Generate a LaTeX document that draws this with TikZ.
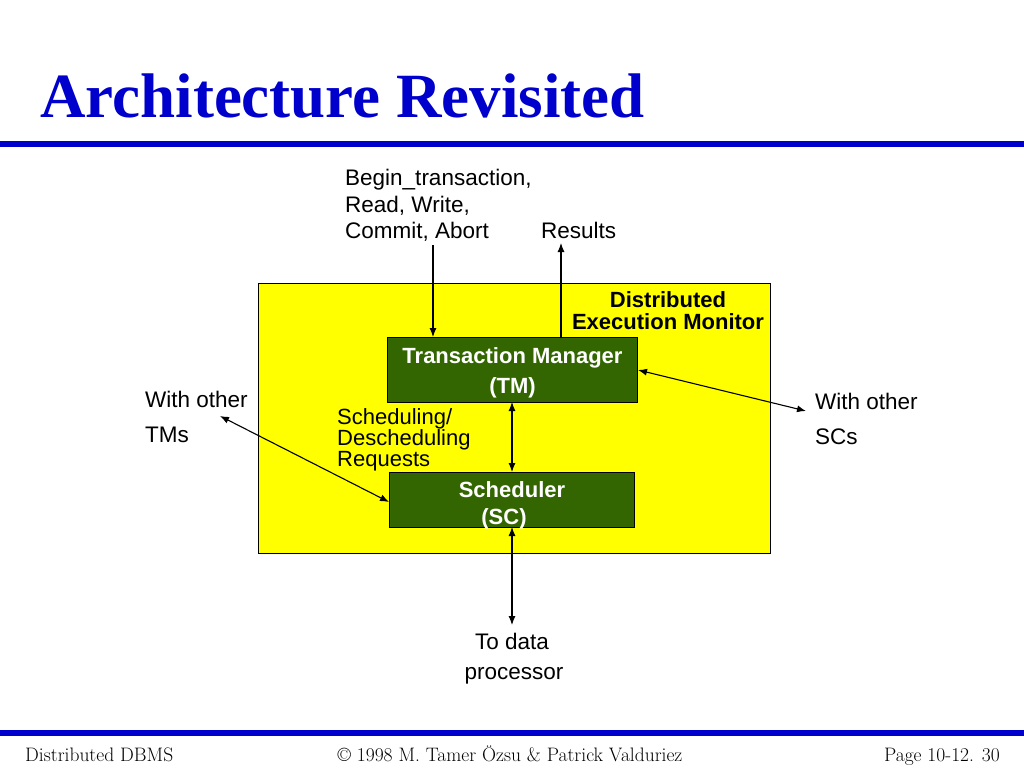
\documentclass[tikz,border=0pt]{standalone}
\usepackage{fontspec}
\newfontfamily\arial{Liberation Sans}
\newfontfamily\titlefont{Liberation Serif}
\usetikzlibrary{arrows.meta}
\definecolor{slideblue}{RGB}{0,0,204}
\definecolor{boxgreen}{RGB}{51,102,0}
\definecolor{boxyellow}{RGB}{255,255,0}
\begin{document}
\begin{tikzpicture}[x=1pt,y=-1pt,
  txt/.style={font=\arial\fontsize{22.5}{26}\selectfont, inner sep=0pt, anchor=base west},
  greenbox/.style={draw=black, line width=1pt, fill=boxgreen, inner sep=0pt, anchor=north west},
  boxtext/.style={text=white, align=center, inner sep=0pt, font=\arial\bfseries\fontsize{22}{30}\selectfont},
  conn/.style={line width=1.1pt, -{Latex[length=9pt,width=7pt]}},
  biconn/.style={line width=1.1pt, {Latex[length=9pt,width=7pt]}-{Latex[length=9pt,width=7pt]}},
  bar/.style={fill=slideblue, draw=none},
  foot/.style={font=\fontsize{19.5}{20}\selectfont, inner sep=0pt, anchor=base}]
\useasboundingbox (0,0) rectangle (1024,768);
\fill[white] (0,0) rectangle (1024,768);
% title
\node[anchor=base west, inner sep=0pt, text=slideblue, font=\titlefont\bfseries\fontsize{63}{66}\selectfont] (title) at (40,117) {Architecture Revisited};
\fill[bar] (0,141) rectangle (1024,147);
\fill[bar] (0,730) rectangle (1024,736);
% footer
\node[foot, anchor=base west] (f1) at (25,761) {Distributed DBMS};
\node[foot] (f2) at (510,761) {\textcopyright{} 1998 M. Tamer Özsu \& Patrick Valduriez};
\node[foot, anchor=base east] (f3) at (1000,761) {Page 10-12. 30};
% monitor box
\node[draw=black, line width=1pt, fill=boxyellow, anchor=north west, minimum width=512pt, minimum height=270pt, inner sep=0pt] (dem) at (258,283) {};
\node[align=center, inner sep=0pt, anchor=north, font=\arial\bfseries\fontsize{22}{22}\selectfont] (demlabel) at (668,291) {Distributed\\Execution Monitor};
% TM and SC
\node[greenbox, minimum width=250pt, minimum height=65pt] (tm) at (387,337) {};
\node[boxtext] (tmtext) at ([yshift=-3pt]tm.center) {Transaction Manager\\(TM)};
\node[greenbox, minimum width=245pt, minimum height=55pt] (sc) at (389,472) {};
\node[boxtext, font=\arial\bfseries\fontsize{22}{27}\selectfont] (sctext) at ([yshift=-5pt]sc.center) {Scheduler\\(SC)\hspace*{16pt}};
% texts
\node[txt] (bt1) at (345,185) {Begin\_transaction,};
\node[txt] (bt2) at (345,212) {Read, Write,};
\node[txt] (bt3) at (345,238) {Commit, Abort};
\node[txt] (res) at (541,238) {Results};
\node[txt, font=\arial\fontsize{22}{21}\selectfont] (sch1) at (337,424) {Scheduling/};
\node[txt, font=\arial\fontsize{22}{21}\selectfont] (sch2) at (337,445) {Descheduling};
\node[txt, font=\arial\fontsize{22}{21}\selectfont] (sch3) at (337,466) {Requests};
\node[txt] (wt1) at (145,407) {With other};
\node[txt] (wt2) at (145,442) {TMs};
\node[txt] (ws1) at (815,409) {With other};
\node[txt] (ws2) at (815,444) {SCs};
\node[txt, anchor=base] (dp1) at (512,649) {To data};
\node[txt, anchor=base] (dp2) at (514,679) {processor};
% connector ends
\coordinate (inTop) at (433,245);
\coordinate (resTop) at (561,243);
\coordinate (tmsEnd) at (220,416);
\coordinate (scsEnd) at (806,411);
\coordinate (dpEnd) at (512,625);
% connectors
\draw[conn] (inTop) -- (inTop |- tm.north);
\draw[conn] (resTop |- tm.north) -- (resTop);
\draw[biconn] (512,402) -- (512,472);
\draw[biconn] (tmsEnd) -- (sc.west |- 0,502);
\draw[biconn] (tm.east |- 0,370) -- (scsEnd);
\draw[biconn] (512,527) -- (dpEnd);
\end{tikzpicture}
\end{document}
